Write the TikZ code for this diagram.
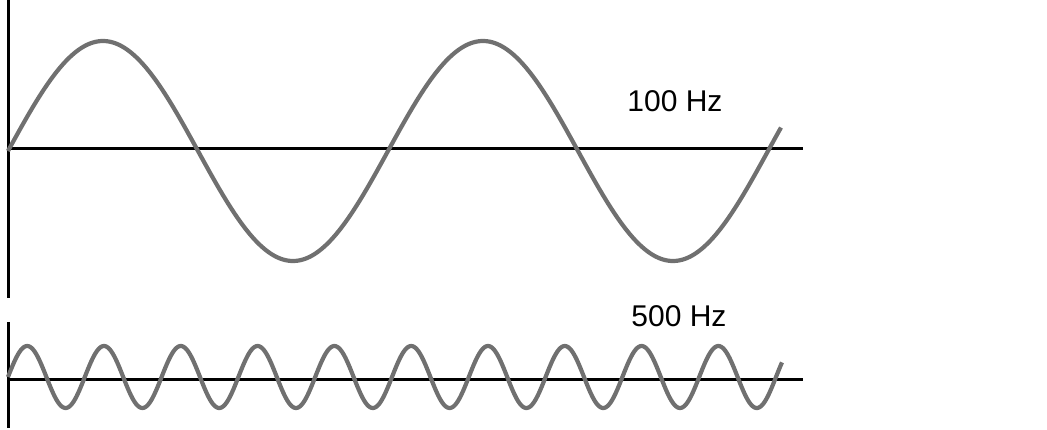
\documentclass[tikz,border=0pt]{standalone}
\usepackage{fontspec}
\setmainfont{Liberation Sans}
\definecolor{wavegray}{RGB}{112,112,112}
\tikzset{
  axisline/.style={line width=3pt, black},
  wave/.style={line width=4.2pt, wavegray, line join=round},
  freqlabel/.style={font=\fontsize{30}{30}\selectfont, inner sep=0pt, anchor=center}
}
\begin{document}
\begin{tikzpicture}[x=1pt,y=-1pt]
\useasboundingbox (0,0) rectangle (1047,430);
% top panel
\coordinate (ta1) at (8,0);
\coordinate (ta2) at (8,298);
\coordinate (th1) at (8,149);
\coordinate (th2) at (803,149);
\draw[axisline] (ta1) -- (ta2);
\draw[axisline] (th1) -- (th2);
\draw[wave] plot[domain=8:781, samples=400, smooth] (\x, {151-110*sin((\x-8)*0.947368)});
\node[freqlabel] (l100) at (675,101) {100 Hz};
% bottom panel
\coordinate (ba1) at (8,322);
\coordinate (ba2) at (8,428);
\coordinate (bh1) at (8,379);
\coordinate (bh2) at (803,379);
\draw[axisline] (ba1) -- (ba2);
\draw[axisline] (bh1) -- (bh2);
\draw[wave] plot[domain=8:782, samples=600, smooth] (\x, {377-31*sin((\x-8)*4.6875)});
\node[freqlabel] (l500) at (679,316) {500 Hz};
\end{tikzpicture}
\end{document}
